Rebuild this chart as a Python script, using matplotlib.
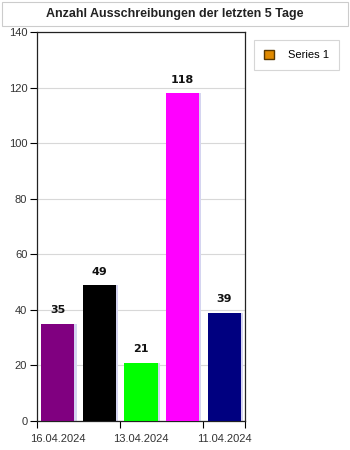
import matplotlib.pyplot as plt
from matplotlib.patches import Rectangle, Patch

categories = ["16.04.2024", "15.04.2024", "13.04.2024", "12.04.2024", "11.04.2024"]
values = [35, 49, 21, 118, 39]
bar_colors = ["#800080", "#000000", "#00ff00", "#ff00ff", "#000080"]
title = "Anzahl Ausschreibungen der letzten 5 Tage"
series_name = "Series 1"

plt.rcParams["font.family"] = ["Liberation Sans", "DejaVu Sans"]

fig = plt.figure(figsize=(3.5, 4.5), dpi=100)
W, H = 350, 450

# title box
fig.patches.append(Rectangle((2 / W, 1 - 26 / H), 346 / W, 24 / H, transform=fig.transFigure,
                             facecolor="white", edgecolor="#cccccc", lw=0.8))
fig.text(0.5, 1 - 14.5 / H, title, ha="center", va="center", fontsize=9, fontweight="bold",
         color="#222222")

ax = fig.add_axes([37 / W, 29 / H, 208 / W, 389 / H])
x = range(len(values))
ax.bar([i + 0.05 for i in x], values, width=0.8, color="#d4d4f0", zorder=2)
ax.bar(x, values, width=0.8, color=bar_colors, zorder=3)
for i, v in zip(x, values):
    ax.annotate(str(v), (i, v), xytext=(0, 6), textcoords="offset points", ha="center",
                va="bottom", fontsize=8, fontweight="semibold", family="DejaVu Sans",
                color="#111111")

ax.set_xlim(-0.5, len(values) - 0.5)
ax.set_ylim(0, 140)
ax.set_yticks(range(0, 141, 20))
ax.tick_params(axis="y", length=5, width=0.8, labelsize=8, labelcolor="#333333", pad=2)
ax.grid(axis="y", color="#d8d8d8", lw=0.8, zorder=0)
ax.set_axisbelow(True)

ax.set_xticks(list(x)[::2])
ax.set_xticklabels(categories[::2])
ax.tick_params(axis="x", length=0, labelsize=8, labelcolor="#333333", pad=9)
ax.set_xticks([-0.5, 1.5, 3.5, 4.5], minor=True)
ax.tick_params(axis="x", which="minor", length=5, width=0.8)

for s in ax.spines.values():
    s.set_color("#222222")
    s.set_linewidth(0.9)

leg = fig.legend(handles=[Patch(facecolor="#e08a00", edgecolor="#5a3800", label=series_name)],
                 loc="upper left", bbox_to_anchor=(254 / W, 1 - 40 / H), borderaxespad=0,
                 fontsize=8, frameon=True, fancybox=False, edgecolor="#cccccc",
                 handlelength=0.9, handleheight=0.9, borderpad=0.9, handletextpad=1.3)
leg.get_frame().set_linewidth(0.8)

fig.savefig("out.png", dpi=100)
